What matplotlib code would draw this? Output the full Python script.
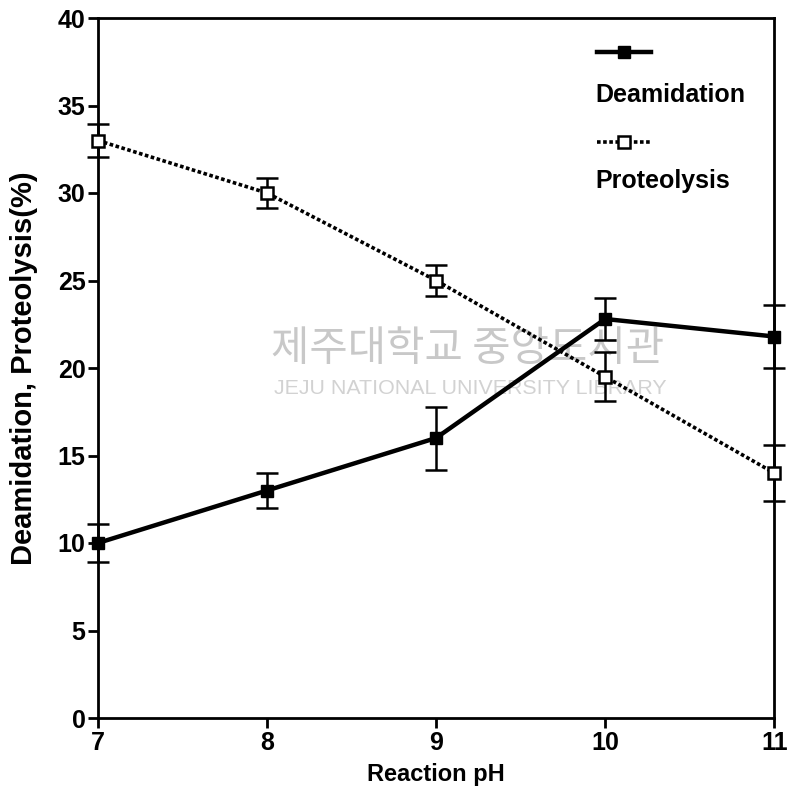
import matplotlib.pyplot as plt
from matplotlib.lines import Line2D

ph = [7, 8, 9, 10, 11]
deamidation = [10.0, 13.0, 16.0, 22.8, 21.8]
deamidation_err = [1.1, 1.0, 1.8, 1.2, 1.8]
proteolysis = [33.0, 30.0, 25.0, 19.5, 14.0]
proteolysis_err = [0.95, 0.85, 0.9, 1.4, 1.6]

plt.rcParams['font.family'] = ['Liberation Sans', 'DejaVu Sans']
plt.rcParams['font.weight'] = 'bold'

fig = plt.figure(figsize=(7.9, 8), dpi=100)
ax = fig.add_axes([0.124, 0.1025, 0.856, 0.875])

# watermark
ax.text(0.546, 0.526, "제주대학교 중앙도서관", transform=ax.transAxes, ha='center', va='center',
        fontsize=30, color='#c8c8c8', family=['Noto Sans CJK KR', 'DejaVu Sans'],
        fontweight='normal', zorder=0)
ax.text(0.55, 0.471, "JEJU NATIONAL UNIVERSITY LIBRARY", transform=ax.transAxes, ha='center',
        va='center', fontsize=15.4, color='#d2d2d2', fontweight='normal', zorder=0)

ax.errorbar(ph, deamidation, yerr=deamidation_err, color='black', lw=3.2, marker='s',
            ms=9, mfc='black', mec='black', ecolor='black', elinewidth=1.8, capsize=8,
            capthick=1.8, clip_on=False, zorder=3)
ax.errorbar(ph, proteolysis, yerr=proteolysis_err, color='black', lw=2.6, ls=(0, (1, 0.7)),
            marker='s', ms=9, mfc='white', mec='black', mew=1.8, ecolor='black',
            elinewidth=1.8, capsize=8, capthick=1.8, clip_on=False, zorder=3)

ax.set_xlim(7, 11)
ax.set_ylim(0, 40)
ax.set_xticks(ph)
ax.set_yticks(range(0, 41, 5))
ax.tick_params(direction='out', length=7, width=2, labelsize=18, pad=2)
for s in ax.spines.values():
    s.set_linewidth(2)

ax.set_xlabel("Reaction pH", fontsize=17, fontweight='bold', labelpad=6)
ax.set_ylabel("Deamidation, Proteolysis(%)", fontsize=21, fontweight='bold', labelpad=14)

# legend: sample line above each label
ax.add_line(Line2D([0.738, 0.778, 0.818], [0.951, 0.951, 0.951], transform=ax.transAxes,
                   color='black', lw=3.2, marker='s', markevery=[1], ms=8))
ax.text(0.736, 0.89, "Deamidation", transform=ax.transAxes, fontsize=18, va='center')
ax.add_line(Line2D([0.738, 0.778, 0.818], [0.823, 0.823, 0.823], transform=ax.transAxes,
                   color='black', lw=2.6, ls=(0, (1, 0.7)), marker='s', markevery=[1], ms=8,
                   mfc='white', mew=1.8))
ax.text(0.736, 0.767, "Proteolysis", transform=ax.transAxes, fontsize=18, va='center')

fig.savefig("out.png", dpi=100)
